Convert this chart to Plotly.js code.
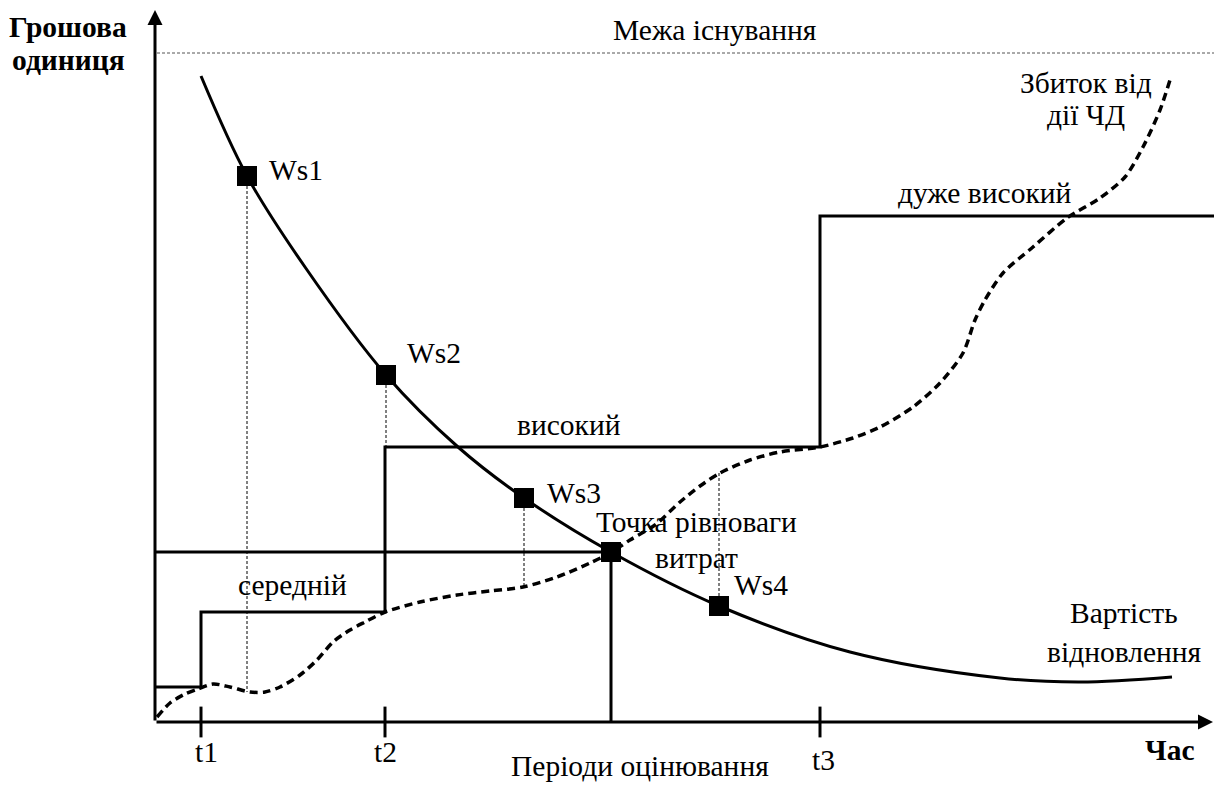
<!DOCTYPE html>
<html><head><meta charset="utf-8">
<script src="https://cdn.plot.ly/plotly-3.0.1.min.js"></script>
<style>html,body{margin:0;padding:0;background:#fff}#chart{width:1214px;height:785px}</style>
</head><body><div id="chart"></div>
<script>
const costX = [46,92,150,231,303,369,456,564,695,845,925,1017];
const costY = [646,546,455,347,275,224,170,116,70,44,40,45];

const damageX = [2,15,30,43,58,75,95,110,125,145,162,178,195,210,230,265,302,335,368,402,435,455,475,500,525,545,565,595,625,665,698,725,758,785,808,820,830,848,878,912,945,970,988,1005,1015];
const damageY = [5,19,28,33,38,35,30,30,35,47,62,80,92,100,110,120,127,131,135,145,159,169,182,197,220,236,249,262,270,275,284,295,315,339,369,402,422,449,475,504,524,545,575,612,642];

const levelX = [0,46,230,665,1059];
const levelY = [35,110,275,506,506];
const levelNames = ['середній','високий','дуже високий'];

const pointNames = ['Ws1','Ws2','Ws3','Ws4'];
const pointX = [92,231,369,564];
const pointY = [546,347,224,116];
const dropToY = [30,275,135,250];

const equilibriumX = 456;
const equilibriumY = 170;
const equilibriumLines = ['Точка рівноваги','витрат'];

const periodTicks = [46,230,665];
const periodLabels = ['t1','t2','t3'];
const existenceLimit = 669;
const xMax = 1059, yMax = 712;

const yTitleLines = ['Грошова','одиниця'];
const xTitle = 'Час';
const xCaption = 'Періоди оцінювання';
const limitLabel = 'Межа існування';
const damageLines = ['Збиток від','дії ЧД'];
const costLines = ['Вартість','відновлення'];

const FONT = 'Liberation Serif';
const FS = 29.5;
const black = '#000';

const traces = [];
traces.push({x:[2,xMax], y:[existenceLimit,existenceLimit], mode:'lines', line:{color:'#555',width:1,dash:'3px,2px'}});
pointX.forEach((px,i)=>{
  traces.push({x:[px,px], y:[pointY[i],dropToY[i]], mode:'lines', line:{color:black,width:1,dash:'3px,2px'}});
});
traces.push({x:levelX, y:levelY, mode:'lines', line:{color:black,width:3,shape:'hv'}});
traces.push({x:[0,equilibriumX,equilibriumX], y:[equilibriumY,equilibriumY,0], mode:'lines', line:{color:black,width:3}});
traces.push({x:damageX, y:damageY, mode:'lines', line:{color:black,width:3.5,dash:'8px,5px',shape:'spline',smoothing:0.8}});
traces.push({x:costX, y:costY, mode:'lines', line:{color:black,width:3,shape:'spline',smoothing:1}});
traces.push({x:periodTicks, y:periodTicks.map(()=>0), mode:'markers', marker:{symbol:'line-ns',size:22,line:{color:black,width:3}}});
traces.push({x:pointX.concat([equilibriumX]), y:pointY.concat([equilibriumY]), mode:'markers', marker:{symbol:'square',size:20,color:black}});

function ann(text,x,y,opt){
  return Object.assign({text:text,x:x,y:y,xref:'x',yref:'y',showarrow:false,font:{family:FONT,size:FS,color:black}},opt||{});
}
const boldFont = {family:FONT,size:29.5,color:black};
const annotations = [
  {x:0,y:yMax,ax:0,ay:0,axref:'x',ayref:'y',xref:'x',yref:'y',text:'',showarrow:true,arrowhead:2,arrowwidth:3,arrowsize:1,arrowcolor:black,standoff:0,startstandoff:0},
  {x:xMax-1,y:0,ax:0,ay:0,axref:'x',ayref:'y',xref:'x',yref:'y',text:'',showarrow:true,arrowhead:2,arrowwidth:3,arrowsize:1,arrowcolor:black,standoff:0,startstandoff:0},
  ann('<b>'+yTitleLines[0]+'</b>',-87,695,{font:boldFont}),
  ann('<b>'+yTitleLines[1]+'</b>',-87,662,{font:boldFont}),
  ann('<b>'+xTitle+'</b>',1015,-28,{font:boldFont}),
  ann(xCaption,485,-44),
  ann(limitLabel,560,692),
  ann(damageLines[0],931,639),
  ann(damageLines[1],931,607),
  ann(costLines[0],969,109),
  ann(costLines[1],969,70),
  ann(levelNames[0],137,137),
  ann(levelNames[1],414,297),
  ann(levelNames[2],830,529),
  ann(equilibriumLines[0],541,200),
  ann(equilibriumLines[1],541,164),
  ann(pointNames[0],112,552,{xanchor:'left'}),
  ann(pointNames[1],250,369,{xanchor:'left'}),
  ann(pointNames[2],390,229,{xanchor:'left'}),
  ann(pointNames[3],577,137,{xanchor:'left'}),
  ann(periodLabels[0],periodTicks[0],-30,{xshift:5}),
  ann(periodLabels[1],periodTicks[1],-30),
  ann(periodLabels[2],periodTicks[2],-38,{xshift:3})
];

const layout = {
  width:1214, height:785, margin:{l:0,r:0,t:0,b:0},
  paper_bgcolor:'#fff', plot_bgcolor:'#fff', showlegend:false,
  font:{family:FONT, color:black},
  xaxis:{range:[-155,1059], showgrid:false, zeroline:false, showticklabels:false, showline:false, fixedrange:true},
  yaxis:{range:[-63,722], showgrid:false, zeroline:false, showticklabels:false, showline:false, fixedrange:true},
  annotations:annotations
};
Plotly.newPlot('chart', traces, layout, {staticPlot:true, displayModeBar:false});
</script></body></html>
